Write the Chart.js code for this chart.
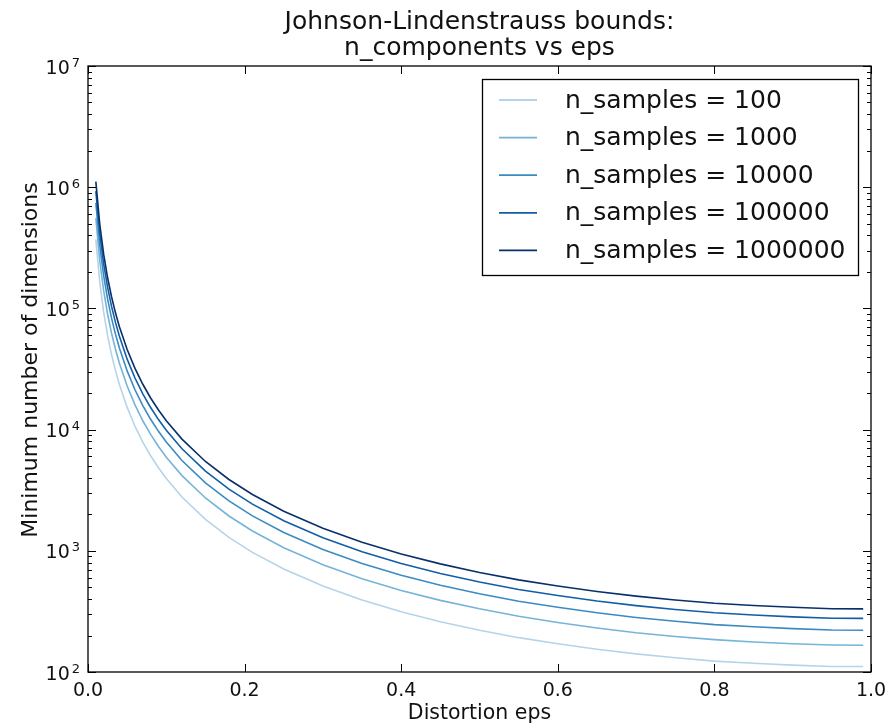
<!DOCTYPE html>
<html lang="en">
<head>
<meta charset="UTF-8">
<title>Johnson-Lindenstrauss bounds</title>
<script src="https://cdn.jsdelivr.net/npm/chart.js"></script>
<style>
    html, body { margin: 0; padding: 0; background: #fff; }
    #wrap { width: 888px; height: 725px; position: relative; }
</style>
</head>
<body>
<div id="wrap"><canvas id="jlChart"></canvas></div>
<script>
    // values
    const epsValues = [0.01, 0.015, 0.02, 0.025, 0.03, 0.035, 0.04, 0.05, 0.06, 0.07, 0.08, 0.09, 0.10, 0.12,
        0.15, 0.18, 0.21, 0.25, 0.30, 0.35, 0.40, 0.45, 0.50, 0.55, 0.60, 0.65, 0.70, 0.75, 0.80, 0.85, 0.90, 0.95, 0.99];
    const dims100 = [370900, 165400, 93350, 59950, 41770, 30790, 23660, 15250, 10660, 7887, 6081, 4839, 3947, 2781,
        1819, 1292, 971, 707, 512, 392, 314, 260, 221, 192, 171, 154, 141, 131, 123, 118, 114, 111, 111];
    const dims1000 = [556300, 248100, 140000, 89920, 62660, 46190, 35480, 22870, 15990, 11830, 9122, 7258, 5921, 4172,
        2729, 1938, 1457, 1061, 768, 588, 471, 390, 332, 288, 256, 231, 211, 196, 185, 177, 171, 167, 166];
    const dims10000 = [741800, 330800, 186700, 119900, 83540, 61590, 47310, 30490, 21320, 15770, 12160, 9677, 7894, 5562,
        3638, 2584, 1942, 1414, 1024, 784, 628, 520, 442, 384, 342, 308, 282, 262, 246, 236, 228, 222, 221];
    const dims100000 = [927200, 413500, 233400, 149900, 104400, 76980, 59140, 38110, 26650, 19720, 15200, 12100, 9868, 6953,
        4548, 3230, 2428, 1768, 1280, 980, 785, 650, 553, 480, 428, 385, 353, 328, 308, 295, 285, 278, 277];
    const dims1000000 = [1112700, 496200, 280000, 179800, 125300, 92380, 70970, 45740, 31980, 23660, 18240, 14520, 11840, 8343,
        5457, 3876, 2913, 2121, 1536, 1176, 942, 780, 663, 576, 513, 462, 423, 393, 369, 354, 342, 333, 332];

    const seriesLabels = ['n_samples = 100', 'n_samples = 1000', 'n_samples = 10000',
        'n_samples = 100000', 'n_samples = 1000000'];
    const seriesValues = [dims100, dims1000, dims10000, dims100000, dims1000000];
    const seriesColors = ['#b6d4e9', '#75b4d8', '#3b8bc3', '#125ea6', '#08306b'];

    const xTicks = [0.0, 0.2, 0.4, 0.6, 0.8, 1.0];
    const yExponents = [2, 3, 4, 5, 6, 7];

    const FONT = '"DejaVu Sans", Verdana, sans-serif';

    const datasets = seriesValues.map((vals, i) => ({
        label: seriesLabels[i],
        data: vals.map((v, j) => ({ x: epsValues[j], y: v })),
        borderColor: seriesColors[i],
        borderWidth: 1.6,
        pointRadius: 0,
        fill: false,
        tension: 0,
        order: seriesValues.length - i
    }));

    // frame, ticks, labels, title and legend in matplotlib style
    const mplDecor = {
        id: 'mplDecor',
        afterDraw(chart) {
            const ctx = chart.ctx;
            const area = chart.chartArea;
            const xs = chart.scales.x;
            const ys = chart.scales.y;
            ctx.save();

            // ticks
            ctx.strokeStyle = '#000';
            ctx.lineWidth = 1;
            ctx.beginPath();
            xTicks.forEach(t => {
                const px = Math.round(xs.getPixelForValue(t)) + 0.5;
                ctx.moveTo(px, area.bottom); ctx.lineTo(px, area.bottom - 8);
                ctx.moveTo(px, area.top); ctx.lineTo(px, area.top + 8);
            });
            yExponents.forEach(e => {
                const py = Math.round(ys.getPixelForValue(Math.pow(10, e))) + 0.5;
                ctx.moveTo(area.left, py); ctx.lineTo(area.left + 8, py);
                ctx.moveTo(area.right, py); ctx.lineTo(area.right - 8, py);
                if (e < 7) {
                    for (let m = 2; m <= 9; m++) {
                        const pm = Math.round(ys.getPixelForValue(m * Math.pow(10, e))) + 0.5;
                        ctx.moveTo(area.left, pm); ctx.lineTo(area.left + 4, pm);
                        ctx.moveTo(area.right, pm); ctx.lineTo(area.right - 4, pm);
                    }
                }
            });
            ctx.stroke();

            // frame
            ctx.lineWidth = 1.3;
            ctx.strokeRect(area.left, area.top, area.right - area.left, area.bottom - area.top);

            ctx.fillStyle = '#111';

            // x tick labels
            ctx.font = '19px ' + FONT;
            ctx.textAlign = 'center';
            ctx.textBaseline = 'alphabetic';
            xTicks.forEach(t => {
                ctx.fillText(t.toFixed(1), xs.getPixelForValue(t), area.bottom + 24);
            });

            // y tick labels 10^e
            yExponents.forEach(e => {
                const py = ys.getPixelForValue(Math.pow(10, e));
                ctx.font = '19px ' + FONT;
                const wBase = ctx.measureText('10').width;
                ctx.font = '13px ' + FONT;
                const wExp = ctx.measureText(String(e)).width;
                const right = area.left - 8;
                const startX = right - wExp - 2 - wBase;
                ctx.textAlign = 'left';
                ctx.font = '19px ' + FONT;
                ctx.fillText('10', startX, py + 7.5);
                ctx.font = '13px ' + FONT;
                ctx.fillText(String(e), startX + wBase + 2, py + 0.5);
            });

            // axis labels
            ctx.font = '20.5px ' + FONT;
            ctx.textAlign = 'center';
            ctx.fillText('Distortion eps', (area.left + area.right) / 2, 719);
            ctx.save();
            ctx.translate(37, 360);
            ctx.rotate(-Math.PI / 2);
            ctx.font = '22px ' + FONT;
            ctx.fillText('Minimum number of dimensions', 0, 0);
            ctx.restore();

            // title
            ctx.font = '25px ' + FONT;
            ctx.fillText('Johnson-Lindenstrauss bounds:', (area.left + area.right) / 2, 29);
            ctx.fillText('n_components vs eps', (area.left + area.right) / 2, 55);

            // legend
            const lx = 482, ly = 79, lw = 376, lh = 196;
            ctx.fillStyle = '#fff';
            ctx.fillRect(lx, ly, lw, lh);
            ctx.strokeStyle = '#000';
            ctx.lineWidth = 1.3;
            ctx.strokeRect(lx + 0.5, ly + 0.5, lw, lh);
            ctx.font = '25px ' + FONT;
            ctx.textAlign = 'left';
            ctx.textBaseline = 'middle';
            seriesLabels.forEach((lab, i) => {
                const cy = 100 + i * 37.6;
                ctx.strokeStyle = seriesColors[i];
                ctx.lineWidth = 1.8;
                ctx.beginPath();
                ctx.moveTo(499, cy); ctx.lineTo(537, cy);
                ctx.stroke();
                ctx.fillStyle = '#111';
                ctx.fillText(lab, 565, cy + 1);
            });

            ctx.restore();
        }
    };

    new Chart(document.getElementById('jlChart').getContext('2d'), {
        type: 'line',
        data: { datasets: datasets },
        options: {
            responsive: true,
            maintainAspectRatio: false,
            animation: false,
            layout: { padding: { left: 88, top: 66, right: 17, bottom: 53 } },
            plugins: {
                legend: { display: false },
                title: { display: false },
                tooltip: { enabled: false }
            },
            scales: {
                x: {
                    type: 'linear',
                    display: false,
                    min: 0,
                    max: 1
                },
                y: {
                    type: 'logarithmic',
                    display: false,
                    min: 100,
                    max: 10000000
                }
            }
        },
        plugins: [mplDecor]
    });
</script>
</body>
</html>
